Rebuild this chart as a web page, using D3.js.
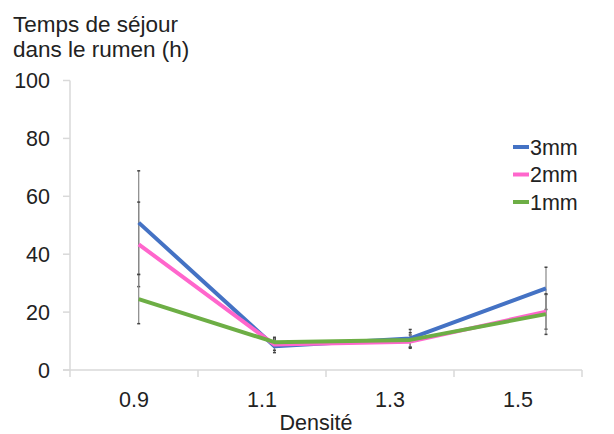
<!DOCTYPE html>
<html><head><meta charset="utf-8">
<script src="https://cdn.jsdelivr.net/npm/d3@7"></script>
<style>body{margin:0;background:#fff}svg{display:block}text{font-family:"Liberation Sans",Arial,sans-serif;fill:#222}</style>
</head><body><svg id="c" width="614" height="434"></svg>
<script>
const categories = ["0.9","1.1","1.3","1.5"];
const yTicks = [0,20,40,60,80,100];
const seriesNames = ["3mm","2mm","1mm"];
const seriesColors = ["#4472C4","#FF66CC","#6DAE45"];
const values3mm = [50.9, 8.2, 10.9, 28.2];
const values2mm = [43.4, 8.8, 9.8, 20.1];
const values1mm = [24.5, 9.6, 10.4, 19.3];
const err3mm = [17.9, 2.2, 3.1, 7.3];
const err2mm = [14.6, 2.0, 2.3, 6.0];
const err1mm = [8.5, 1.7, 2.5, 7.0];
const yTitle = ["Temps de séjour","dans le rumen (h)"];
const xTitle = "Densité";

const series = [
  {name:seriesNames[0], color:seriesColors[0], v:values3mm, e:err3mm},
  {name:seriesNames[1], color:seriesColors[1], v:values2mm, e:err2mm},
  {name:seriesNames[2], color:seriesColors[2], v:values1mm, e:err1mm}
];

const svg = d3.select("#c");
const fs = 21.5;
const xBand = d3.scaleBand().domain(categories).range([70, 582]);
const xPt = d3.scalePoint().domain(categories).range([138.7, 546]);
const y = d3.scaleLinear().domain([0,100]).range([370, 80.5]);
const axisColor = "#d9d9d9";

// y axis
svg.append("line").attr("x1",70).attr("x2",70).attr("y1",y(100)).attr("y2",y(0)+7)
  .attr("stroke",axisColor).attr("stroke-width",1.5);
yTicks.forEach(t=>{
  svg.append("line").attr("x1",63).attr("x2",70).attr("y1",y(t)).attr("y2",y(t))
    .attr("stroke",axisColor).attr("stroke-width",1.5);
  svg.append("text").attr("x",50).attr("y",y(t)).attr("dy","0.36em")
    .attr("text-anchor","end").attr("font-size",fs).text(t);
});
// x axis
svg.append("line").attr("x1",63).attr("x2",582).attr("y1",y(0)).attr("y2",y(0))
  .attr("stroke",axisColor).attr("stroke-width",1.5);
categories.forEach(c=>{
  const x1 = xBand(c)+xBand.bandwidth();
  svg.append("line").attr("x1",x1).attr("x2",x1).attr("y1",y(0)).attr("y2",y(0)+7)
    .attr("stroke",axisColor).attr("stroke-width",1.5);
  svg.append("text").attr("x",xBand(c)+xBand.bandwidth()/2).attr("y",407)
    .attr("text-anchor","middle").attr("font-size",fs).text(c);
});
svg.append("text").attr("x",316).attr("y",429.5).attr("text-anchor","middle").attr("font-size",fs).text(xTitle);
yTitle.forEach((t,i)=>{
  svg.append("text").attr("x",13).attr("y",31.5+i*25).attr("font-size",22.5).text(t);
});

// error bars
series.forEach(s=>{
  categories.forEach((c,i)=>{
    const x = xPt(c), hi = y(s.v[i]+s.e[i]), lo = y(s.v[i]-s.e[i]);
    svg.append("line").attr("x1",x).attr("x2",x).attr("y1",hi).attr("y2",lo)
      .attr("stroke","#888").attr("stroke-width",1.2);
    [hi,lo].forEach(yy=>svg.append("line").attr("x1",x-1.5).attr("x2",x+1.5)
      .attr("y1",yy).attr("y2",yy).attr("stroke","#444").attr("stroke-width",1.5));
  });
});

// lines (3mm first, 1mm drawn on top)
const line = d3.line().x((d,i)=>xPt(categories[i])).y(d=>y(d));
series.forEach(s=>{
  svg.append("path").datum(s.v).attr("d",line).attr("fill","none")
    .attr("stroke",s.color).attr("stroke-width",4).attr("stroke-linejoin","round");
});

// legend
series.forEach((s,i)=>{
  const ly = 147 + i*27.5;
  svg.append("line").attr("x1",513).attr("x2",529).attr("y1",ly).attr("y2",ly)
    .attr("stroke",s.color).attr("stroke-width",4);
  svg.append("text").attr("x",530).attr("y",ly).attr("dy","0.36em").attr("font-size",fs).text(s.name);
});
</script></body></html>
